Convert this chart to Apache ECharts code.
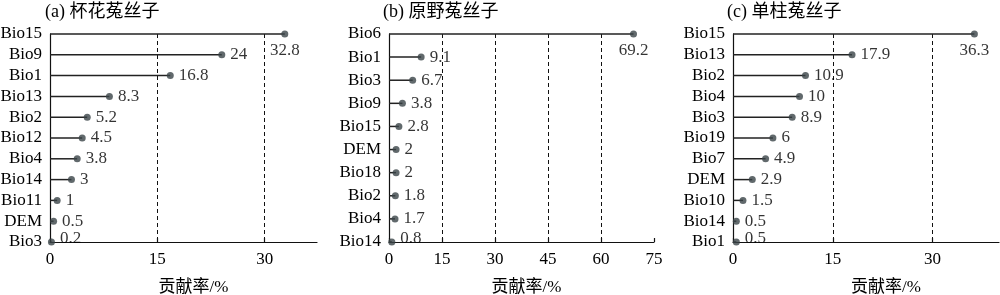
<!DOCTYPE html>
<html>
<head>
<meta charset="utf-8">
<script src="https://cdn.jsdelivr.net/npm/echarts@6/dist/echarts.min.js"></script>
<style>html,body{margin:0;padding:0;background:#fff}#c{width:1000px;height:295px}</style>
</head>
<body>
<div id="c"></div>
<script>
// Panel titles
const titles = ['(a) 杯花菟丝子', '(b) 原野菟丝子', '(c) 单柱菟丝子'];
const axisName = '贡献率/%';

// (a) 杯花菟丝子
const catsA = ['Bio15', 'Bio9', 'Bio1', 'Bio13', 'Bio2', 'Bio12', 'Bio4', 'Bio14', 'Bio11', 'DEM', 'Bio3'];
const valsA = [32.8, 24, 16.8, 8.3, 5.2, 4.5, 3.8, 3, 1, 0.5, 0.2];
// (b) 原野菟丝子
const catsB = ['Bio6', 'Bio1', 'Bio3', 'Bio9', 'Bio15', 'DEM', 'Bio18', 'Bio2', 'Bio4', 'Bio14'];
const valsB = [69.2, 9.1, 6.7, 3.8, 2.8, 2, 2, 1.8, 1.7, 0.8];
// (c) 单柱菟丝子
const catsC = ['Bio15', 'Bio13', 'Bio2', 'Bio4', 'Bio3', 'Bio19', 'Bio7', 'DEM', 'Bio10', 'Bio14', 'Bio1'];
const valsC = [36.3, 17.9, 10.9, 10, 8.9, 6, 4.9, 2.9, 1.5, 0.5, 0.5];

// x-axis settings per panel
const xMax = [37.3, 75, 40];
const xInterval = [15, 15, 15];

const panels = [
  {cats: catsA, vals: valsA, left: 50, right: 683, titleLeft: 45, namePad: 20},
  {cats: catsB, vals: valsB, left: 389, right: 346, titleLeft: 383, namePad: 10},
  {cats: catsC, vals: valsC, left: 733, right: 1, titleLeft: 727, namePad: 40}
];

const FONT = '"Liberation Serif", "Times New Roman", "Noto Sans CJK SC", serif';
const LINE = '#222';
const DOT = '#3a4347';
const TXT = '#000';

const option = {
  animation: false,
  backgroundColor: '#fff',
  textStyle: {fontFamily: FONT},
  title: panels.map((p, i) => ({
    text: titles[i], left: p.titleLeft, top: 3, padding: 0,
    textStyle: {fontFamily: FONT, fontSize: 18, fontWeight: 'normal', color: TXT}
  })),
  grid: panels.map(p => ({left: p.left, right: p.right, top: 34, bottom: 53,
    containLabel: false, outerBoundsMode: 'none'})),
  xAxis: panels.map((p, i) => ({
    type: 'value', gridIndex: i, min: 0, max: xMax[i], interval: xInterval[i],
    name: axisName, nameLocation: 'middle', nameGap: 37,
    nameTextStyle: {fontFamily: FONT, fontSize: 17, color: TXT, padding: [0, 0, 0, p.namePad]},
    axisLine: {show: true, lineStyle: {color: '#111', width: 1.2}},
    axisTick: {show: true, inside: true, length: 4, lineStyle: {color: '#111', width: 1.2}},
    axisLabel: {fontFamily: FONT, fontSize: 17, color: TXT, margin: 9, showMaxLabel: i === 1},
    splitLine: {show: true, showMinLine: false, showMaxLine: false,
      lineStyle: {color: '#111', width: 1, type: [4, 3]}}
  })),
  yAxis: panels.map((p, i) => ({
    type: 'category', gridIndex: i, data: p.cats, inverse: true, boundaryGap: false,
    axisLine: {show: true, lineStyle: {color: '#111', width: 1.2}},
    axisTick: {show: false},
    axisLabel: {fontFamily: FONT, fontSize: 17, color: TXT, margin: 8, interval: 0},
    splitLine: {show: false}
  })),
  series: []
};

panels.forEach((p, i) => {
  option.series.push({
    type: 'bar', xAxisIndex: i, yAxisIndex: i, data: p.vals,
    barWidth: 1.5, silent: true,
    itemStyle: {color: LINE}
  });
  const maxIdx = p.vals.indexOf(Math.max(...p.vals));
  const last = p.vals.length - 1;
  option.series.push({
    type: 'scatter', xAxisIndex: i, yAxisIndex: i,
    symbol: 'circle', symbolSize: 7,
    itemStyle: {color: DOT},
    data: p.vals.map((v, k) => {
      const d = {value: [v, p.cats[k]]};
      if (k === maxIdx) d.label = {position: 'bottom', distance: 5};
      else if (k === last) d.label = {offset: [0, -3]};
      return d;
    }),
    label: {
      show: true, position: 'right', distance: 5,
      fontFamily: FONT, fontSize: 17, color: TXT,
      formatter: o => String(o.value[0])
    }
  });
});

const chart = echarts.init(document.getElementById('c'), null, {renderer: 'canvas'});
chart.setOption(option);
</script>
</body>
</html>
